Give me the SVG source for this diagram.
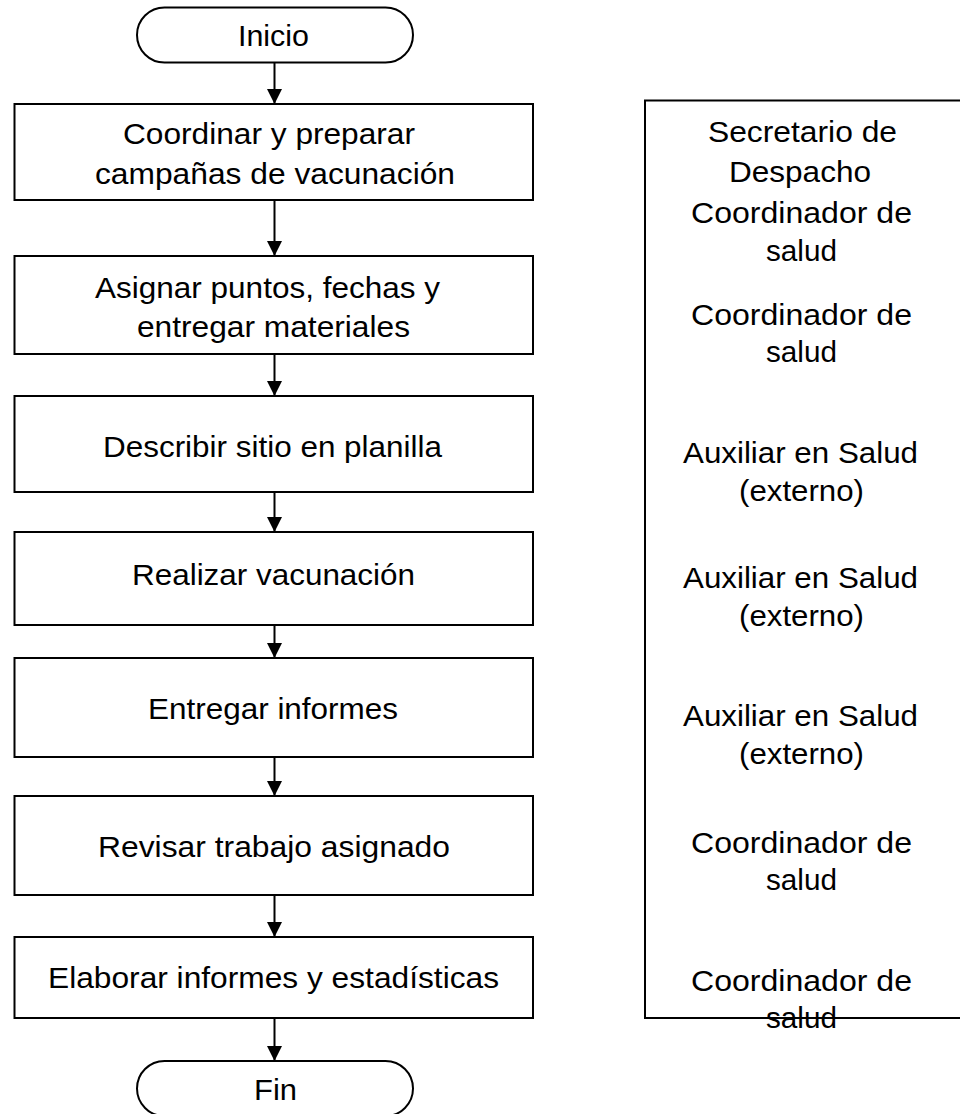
<svg xmlns="http://www.w3.org/2000/svg" width="960" height="1114" viewBox="0 0 960 1114">
<style>
.shape{fill:#fff;stroke:#000;stroke-width:2}
.t{font-family:"Liberation Sans",Arial,sans-serif;font-size:30px;fill:#000;text-anchor:middle}
.conn{stroke:#000;stroke-width:2;fill:none;marker-end:url(#arr)}
</style>
<defs>
<marker id="arr" markerUnits="userSpaceOnUse" markerWidth="15" markerHeight="15" refX="15" refY="7.5" orient="auto">
<path d="M0,0 L15,7.5 L0,15 z" fill="#000"/>
</marker>
</defs>
<rect width="960" height="1114" fill="#fff"/>
<g id="connectors">
<line class="conn" x1="274.5" y1="63" x2="274.5" y2="104"/>
<line class="conn" x1="274.5" y1="200" x2="274.5" y2="256"/>
<line class="conn" x1="274.5" y1="354" x2="274.5" y2="396"/>
<line class="conn" x1="274.5" y1="492" x2="274.5" y2="532"/>
<line class="conn" x1="274.5" y1="625" x2="274.5" y2="658"/>
<line class="conn" x1="274.5" y1="757" x2="274.5" y2="796"/>
<line class="conn" x1="274.5" y1="895" x2="274.5" y2="937"/>
<line class="conn" x1="274.5" y1="1018" x2="274.5" y2="1061"/>
</g>
<g id="inicio">
<rect class="shape" x="137" y="7.5" width="276" height="55" rx="27.5"/>
<text class="t" x="273.5" y="45.5" textLength="71" lengthAdjust="spacingAndGlyphs">Inicio</text>
</g>
<g id="n1">
<rect class="shape" x="14.5" y="104" width="518.5" height="96"/>
<text class="t" x="269" y="144" textLength="292" lengthAdjust="spacingAndGlyphs">Coordinar y preparar</text>
<text class="t" x="275" y="184" textLength="360" lengthAdjust="spacingAndGlyphs">campañas de vacunación</text>
</g>
<g id="n2">
<rect class="shape" x="14.5" y="256" width="518.5" height="98"/>
<text class="t" x="267.5" y="298" textLength="345" lengthAdjust="spacingAndGlyphs">Asignar puntos, fechas y</text>
<text class="t" x="273.5" y="336.5" textLength="273" lengthAdjust="spacingAndGlyphs">entregar materiales</text>
</g>
<g id="n3">
<rect class="shape" x="14.5" y="396" width="518.5" height="96"/>
<text class="t" x="272.5" y="456.5" textLength="339" lengthAdjust="spacingAndGlyphs">Describir sitio en planilla</text>
</g>
<g id="n4">
<rect class="shape" x="14.5" y="532" width="518.5" height="93"/>
<text class="t" x="273.5" y="585" textLength="283" lengthAdjust="spacingAndGlyphs">Realizar vacunación</text>
</g>
<g id="n5">
<rect class="shape" x="14.5" y="658" width="518.5" height="99"/>
<text class="t" x="273" y="719" textLength="250" lengthAdjust="spacingAndGlyphs">Entregar informes</text>
</g>
<g id="n6">
<rect class="shape" x="14.5" y="796" width="518.5" height="99"/>
<text class="t" x="274" y="857" textLength="352" lengthAdjust="spacingAndGlyphs">Revisar trabajo asignado</text>
</g>
<g id="n7">
<rect class="shape" x="14.5" y="937" width="518.5" height="81"/>
<text class="t" x="273.5" y="988" textLength="451" lengthAdjust="spacingAndGlyphs">Elaborar informes y estadísticas</text>
</g>
<g id="fin">
<rect class="shape" x="137" y="1061" width="276" height="55" rx="27.5"/>
<text class="t" x="275.5" y="1100" textLength="43" lengthAdjust="spacingAndGlyphs">Fin</text>
</g>
<g id="responsables">
<rect class="shape" x="645" y="100.5" width="330" height="917.5"/>
<text class="t" x="802.5" y="142" textLength="189" lengthAdjust="spacingAndGlyphs">Secretario de</text>
<text class="t" x="800" y="182" textLength="142" lengthAdjust="spacingAndGlyphs">Despacho</text>
<text class="t" x="801.5" y="223" textLength="221" lengthAdjust="spacingAndGlyphs">Coordinador de</text>
<text class="t" x="801.5" y="261" textLength="71" lengthAdjust="spacingAndGlyphs">salud</text>
<text class="t" x="801.5" y="325" textLength="221" lengthAdjust="spacingAndGlyphs">Coordinador de</text>
<text class="t" x="801.5" y="362" textLength="71" lengthAdjust="spacingAndGlyphs">salud</text>
<text class="t" x="800.5" y="463" textLength="235" lengthAdjust="spacingAndGlyphs">Auxiliar en Salud</text>
<text class="t" x="801.5" y="501" textLength="125" lengthAdjust="spacingAndGlyphs">(externo)</text>
<text class="t" x="800.5" y="588" textLength="235" lengthAdjust="spacingAndGlyphs">Auxiliar en Salud</text>
<text class="t" x="801.5" y="626" textLength="125" lengthAdjust="spacingAndGlyphs">(externo)</text>
<text class="t" x="800.5" y="726" textLength="235" lengthAdjust="spacingAndGlyphs">Auxiliar en Salud</text>
<text class="t" x="801.5" y="764" textLength="125" lengthAdjust="spacingAndGlyphs">(externo)</text>
<text class="t" x="801.5" y="853" textLength="221" lengthAdjust="spacingAndGlyphs">Coordinador de</text>
<text class="t" x="801.5" y="890" textLength="71" lengthAdjust="spacingAndGlyphs">salud</text>
<text class="t" x="801.5" y="991" textLength="221" lengthAdjust="spacingAndGlyphs">Coordinador de</text>
<text class="t" x="801.5" y="1028" textLength="71" lengthAdjust="spacingAndGlyphs">salud</text>
</g>
</svg>
